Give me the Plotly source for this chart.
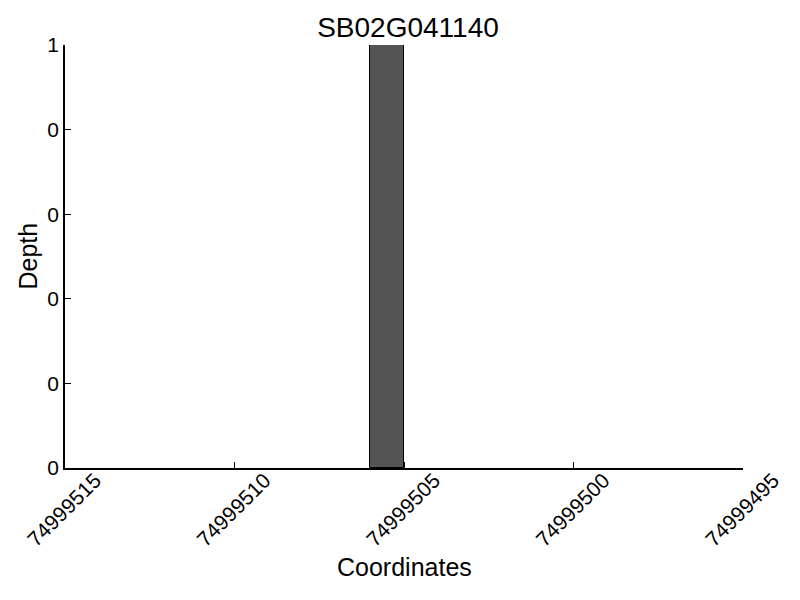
import plotly.graph_objects as go

coordinates = [74999505]
depth = [1]
x_ticks = [74999515, 74999510, 74999505, 74999500, 74999495]
y_ticks = [0, 0.2, 0.4, 0.6, 0.8, 1.0]
y_tick_labels = ["0", "0", "0", "0", "0", "1"]

fig = go.Figure()
fig.add_trace(go.Bar(
    x=coordinates, y=depth, width=[1], offset=0,
    marker=dict(color="#555555", line=dict(color="black", width=1)),
))

font = "Liberation Sans, Arial, sans-serif"
fig.update_layout(
    width=800, height=600,
    paper_bgcolor="white", plot_bgcolor="white",
    margin=dict(l=57, r=65, t=37, b=140),
    showlegend=False,
    font=dict(family=font, color="black"),
    title=dict(text="SB02G041140", x=0.5, xanchor="center", y=0.968, yanchor="middle",
               font=dict(size=28, family=font, color="black")),
    bargap=0,
    annotations=[
        dict(text="Coordinates", xref="paper", yref="paper", x=0.5, y=-0.234,
             xanchor="center", yanchor="middle", showarrow=False,
             font=dict(size=25, family=font, color="black")),
        dict(text="Depth", xref="paper", yref="paper", x=-0.056, y=0.5, textangle=-90,
             xanchor="center", yanchor="middle", showarrow=False,
             font=dict(size=25, family=font, color="black")),
    ],
)
fig.update_xaxes(
    range=[74999515, 74999495], tickvals=x_ticks, ticktext=[str(v) for v in x_ticks],
    tickangle=-45, ticks="inside", ticklen=6, tickcolor="black", tickwidth=1,
    showline=True, linecolor="black", linewidth=1.5, showgrid=False, zeroline=False,
    automargin=False, ticklabeloverflow="allow", ticklabelshift=-30, ticklabelstandoff=-10,
    tickfont=dict(size=21, family=font, color="black"),
)
fig.update_yaxes(
    range=[0, 1], tickvals=y_ticks, ticktext=y_tick_labels,
    ticks="inside", ticklen=6, tickcolor="black", tickwidth=1,
    showline=True, linecolor="black", linewidth=1.5, showgrid=False, zeroline=False,
    automargin=False, ticklabeloverflow="allow",
    tickfont=dict(size=21, family=font, color="black"),
)
fig.write_html("out.html")
